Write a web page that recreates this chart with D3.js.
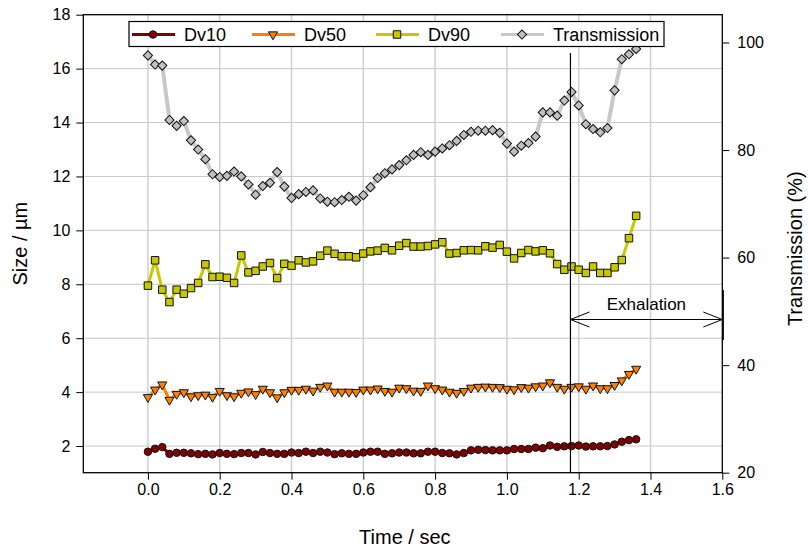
<!DOCTYPE html>
<html>
<head>
<meta charset="utf-8">
<script src="https://cdn.jsdelivr.net/npm/d3@7"></script>
<style>
    body{margin:0;background:#fff;}
    svg{display:block;}
    text{font-family:"Liberation Sans",Arial,sans-serif;fill:#000;}
</style>
</head>
<body>
<div id="chart"></div>
<script>
// sample times (sec)
var times = [0.00,0.02,0.04,0.06,0.08,0.10,0.12,0.14,0.16,0.18,0.20,0.22,0.24,0.26,0.28,0.30,0.32,0.34,0.36,0.38,
    0.40,0.42,0.44,0.46,0.48,0.50,0.52,0.54,0.56,0.58,0.60,0.62,0.64,0.66,0.68,0.70,0.72,0.74,0.76,0.78,
    0.80,0.82,0.84,0.86,0.88,0.90,0.92,0.94,0.96,0.98,1.00,1.02,1.04,1.06,1.08,1.10,1.12,1.14,1.16,1.18,
    1.20,1.22,1.24,1.26,1.28,1.30,1.32,1.34,1.36];

var dv10 = [1.79,1.90,1.96,1.71,1.75,1.75,1.73,1.70,1.71,1.69,1.74,1.71,1.70,1.74,1.74,1.69,1.78,1.74,1.71,1.71,
    1.76,1.74,1.79,1.74,1.79,1.76,1.70,1.73,1.71,1.71,1.76,1.79,1.79,1.71,1.73,1.76,1.76,1.73,1.73,1.79,
    1.79,1.74,1.73,1.69,1.74,1.84,1.86,1.85,1.84,1.84,1.84,1.89,1.89,1.89,1.94,1.92,2.02,1.97,1.99,2.00,
    2.02,1.98,1.99,1.99,2.00,2.06,2.16,2.22,2.25];

var dv50 = [3.81,4.09,4.28,3.71,3.93,3.99,3.84,3.88,3.90,3.82,4.04,3.88,3.84,3.97,4.02,3.92,4.12,3.99,3.80,3.99,
    4.08,4.08,4.12,4.05,4.19,4.24,4.01,4.01,4.01,4.00,4.09,4.09,4.13,4.04,4.01,4.16,4.14,4.05,4.04,4.24,
    4.14,4.09,4.01,3.97,4.04,4.16,4.19,4.20,4.19,4.18,4.12,4.10,4.18,4.16,4.21,4.24,4.36,4.19,4.12,4.19,
    4.21,4.12,4.24,4.14,4.14,4.26,4.43,4.67,4.86];

var dv90 = [7.95,8.89,7.80,7.34,7.80,7.65,7.86,8.05,8.74,8.27,8.28,8.24,8.05,9.07,8.44,8.50,8.66,8.79,8.23,8.76,
    8.69,8.89,8.81,8.85,9.06,9.25,9.13,9.04,9.04,9.00,9.14,9.22,9.25,9.35,9.26,9.43,9.53,9.40,9.40,9.42,
    9.48,9.56,9.14,9.16,9.26,9.27,9.26,9.41,9.36,9.46,9.21,8.96,9.16,9.27,9.22,9.26,9.15,8.75,8.54,8.66,
    8.54,8.42,8.66,8.42,8.42,8.63,8.90,9.71,10.54];

var transmission = [97.6,95.9,95.7,85.6,84.5,85.4,81.8,80.1,78.3,75.5,75.0,75.2,76.0,75.1,73.6,71.7,73.3,73.9,75.9,73.2,
    71.1,71.8,72.2,72.5,71.0,70.4,70.3,70.7,71.3,70.6,71.6,73.1,74.8,75.7,76.4,77.2,78.1,79.1,79.6,79.1,
    79.7,80.3,80.9,81.7,82.8,83.4,83.6,83.6,83.7,83.2,81.2,79.7,80.8,81.3,82.5,87.0,87.0,86.4,89.2,90.8,
    88.3,84.8,83.9,83.3,84.1,91.1,96.9,97.8,98.8];

var xTicks = [0.0,0.2,0.4,0.6,0.8,1.0,1.2,1.4,1.6];
var yTicks = [2,4,6,8,10,12,14,16,18];
var tTicks = [20,40,60,80,100];
var exhaleStart = 1.177, exhaleEnd = 1.6;

var W = 808, H = 549;
var plot = {left: 83.3, right: 722.3, top: 14.7, bottom: 472.7};

var svg = d3.select("#chart").append("svg").attr("width", W).attr("height", H);

var x = d3.scaleLinear().domain([-0.18, 1.6]).range([plot.left, plot.right]);
var y = d3.scaleLinear().domain([1, 18]).range([plot.bottom + 0.3, plot.top]);
var yT = d3.scaleLinear().domain([20, 100]).range([plot.bottom, 42.5]);

// grid
var grid = svg.append("g");
grid.selectAll(".vg").data(xTicks.filter(function(d){ return d < 1.6; })).enter().append("line")
    .attr("x1", function(d){ return x(d); }).attr("x2", function(d){ return x(d); })
    .attr("y1", plot.top).attr("y2", plot.bottom)
    .attr("stroke", "#cfcfcf").attr("stroke-width", 1.5);
grid.selectAll(".hg").data(yTicks.filter(function(d){ return d < 18; })).enter().append("line")
    .attr("x1", plot.left).attr("x2", plot.right)
    .attr("y1", function(d){ return y(d); }).attr("y2", function(d){ return y(d); })
    .attr("stroke", "#c8c8c8").attr("stroke-width", 1);

// axes
var xAxis = svg.append("g").attr("transform", "translate(0," + plot.bottom + ")")
    .call(d3.axisBottom(x).tickValues(xTicks).tickFormat(d3.format(".1f")).tickSizeOuter(0).tickSize(7).tickPadding(4));
var yAxis = svg.append("g").attr("transform", "translate(" + plot.left + ",0)")
    .call(d3.axisLeft(y).tickValues(yTicks).tickFormat(d3.format("d")).tickSizeOuter(0).tickSize(7).tickPadding(6));
var tAxis = svg.append("g").attr("transform", "translate(" + plot.right + ",0)")
    .call(d3.axisRight(yT).tickValues(tTicks).tickSizeOuter(0).tickSize(7).tickPadding(8));
[xAxis, yAxis, tAxis].forEach(function(a){
    a.selectAll("path").remove();
    a.selectAll("line").attr("stroke", "#000");
    a.selectAll("text").attr("font-size", 16).attr("font-family", "'Liberation Sans',Arial,sans-serif");
});

// frame
svg.append("rect").attr("x", plot.left).attr("y", plot.top)
    .attr("width", plot.right - plot.left).attr("height", plot.bottom - plot.top)
    .attr("fill", "none").attr("stroke", "#000").attr("stroke-width", 1.3);

// axis titles
svg.append("text").attr("transform", "translate(27," + ((plot.top + plot.bottom) / 2) + ") rotate(-90)")
    .attr("text-anchor", "middle").attr("font-size", 20).text("Size / µm");
svg.append("text").attr("transform", "translate(802," + ((plot.top + plot.bottom) / 2 + 5) + ") rotate(-90)")
    .attr("text-anchor", "middle").attr("font-size", 20).text("Transmission (%)");
svg.append("text").attr("x", (plot.left + plot.right) / 2 + 2).attr("y", 544)
    .attr("text-anchor", "middle").attr("font-size", 20).text("Time / sec");

// series
var series = [
    {name: "Dv10", values: dv10, scale: y, color: "#800000", fill: "#800000", symbol: "circle"},
    {name: "Dv50", values: dv50, scale: y, color: "#ff8000", fill: "#ff8000", symbol: "triangle"},
    {name: "Dv90", values: dv90, scale: y, color: "#c8c800", fill: "#c8c800", symbol: "square"},
    {name: "Transmission", values: transmission, scale: yT, color: "#c8c8c8", fill: "#c0c0c0", symbol: "diamond"}
];

function symbolPath(type){
    if (type === "circle") return d3.symbol(d3.symbolCircle, 44)();
    if (type === "triangle") return d3.symbol(d3.symbolTriangle, 36)();
    if (type === "square") return d3.symbol(d3.symbolSquare, 56)();
    return d3.symbol(d3.symbolSquare, 42)();
}
function symbolRotate(type){
    if (type === "triangle") return " rotate(180)";
    if (type === "diamond") return " rotate(45)";
    return "";
}

series.forEach(function(s){
    var pts = times.map(function(t, i){ return [t, s.values[i]]; });
    var g = svg.append("g");
    g.append("path").datum(pts)
        .attr("d", d3.line().x(function(d){ return x(d[0]); }).y(function(d){ return s.scale(d[1]); }))
        .attr("fill", "none").attr("stroke", s.color)
        .attr("stroke-width", s.symbol === "diamond" ? 4 : 3).attr("stroke-linejoin", "round");
    g.selectAll("path.m").data(pts).enter().append("path").attr("class", "m")
        .attr("d", symbolPath(s.symbol))
        .attr("transform", function(d){ return "translate(" + x(d[0]) + "," + s.scale(d[1]) + ")" + symbolRotate(s.symbol); })
        .attr("fill", s.fill).attr("stroke", "#111").attr("stroke-width", 1);
});

// exhalation marker
svg.append("line").attr("x1", x(exhaleStart)).attr("x2", x(exhaleStart))
    .attr("y1", 53).attr("y2", plot.bottom).attr("stroke", "#000").attr("stroke-width", 1.2);
svg.append("line").attr("x1", x(exhaleEnd) + 1).attr("x2", x(exhaleEnd) + 1)
    .attr("y1", 290).attr("y2", 340).attr("stroke", "#000").attr("stroke-width", 1.2);
var ay = 319.5;
svg.append("line").attr("x1", x(exhaleStart)).attr("x2", x(exhaleEnd))
    .attr("y1", ay).attr("y2", ay).attr("stroke", "#000").attr("stroke-width", 1);
svg.append("path")
    .attr("d", "M" + (x(exhaleStart) + 19) + "," + (ay - 7.5) + "L" + x(exhaleStart) + "," + ay + "L" + (x(exhaleStart) + 19) + "," + (ay + 7.5)
        + "M" + (x(exhaleEnd) - 19) + "," + (ay - 7.5) + "L" + x(exhaleEnd) + "," + ay + "L" + (x(exhaleEnd) - 19) + "," + (ay + 7.5))
    .attr("fill", "none").attr("stroke", "#000").attr("stroke-width", 1);
svg.append("text").attr("x", (x(exhaleStart) + x(exhaleEnd)) / 2).attr("y", 309.5)
    .attr("text-anchor", "middle").attr("font-size", 17).text("Exhalation");

// legend
var legend = svg.append("g");
legend.append("rect").attr("x", 129).attr("y", 21.5).attr("width", 535).attr("height", 25)
    .attr("fill", "#fff").attr("stroke", "#000").attr("stroke-width", 1.2);
var legendX = [132, 252, 376, 501];
series.forEach(function(s, i){
    var lx = legendX[i], ly = 34.5;
    legend.append("line").attr("x1", lx).attr("x2", lx + 43).attr("y1", ly).attr("y2", ly)
        .attr("stroke", s.color).attr("stroke-width", 3);
    legend.append("path").attr("d", symbolPath(s.symbol))
        .attr("transform", "translate(" + (lx + 21) + "," + ly + ")" + symbolRotate(s.symbol))
        .attr("fill", s.fill).attr("stroke", "#111").attr("stroke-width", 1);
    legend.append("text").attr("x", lx + 52).attr("y", ly + 6.5).attr("font-size", 18).text(s.name);
});
</script>
</body>
</html>
